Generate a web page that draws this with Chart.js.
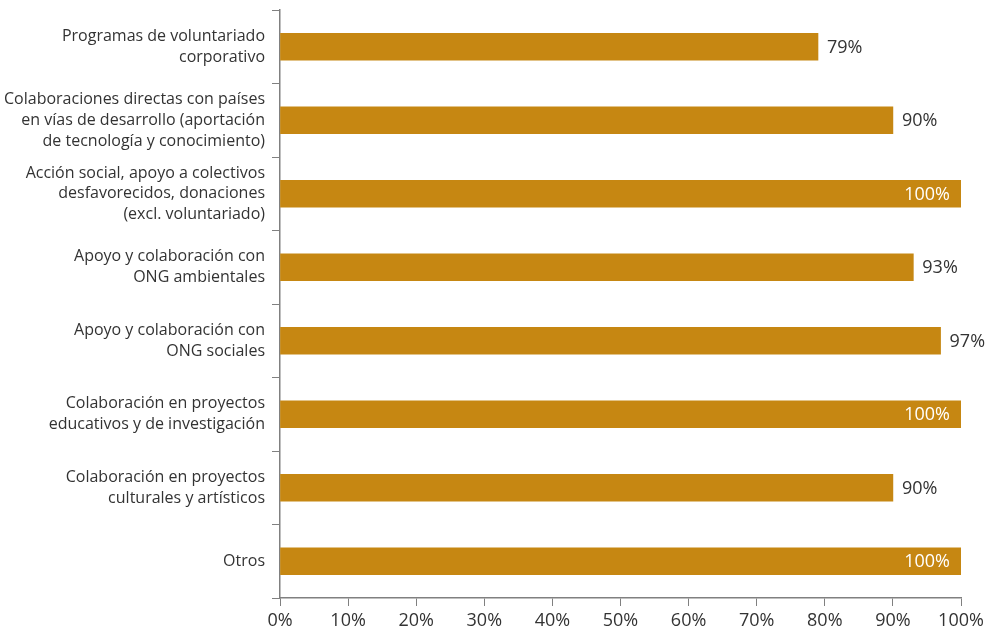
<!DOCTYPE html>
<html>
<head>
<meta charset="utf-8">
<script src="https://cdn.jsdelivr.net/npm/chart.js@4/dist/chart.umd.min.js"></script>
<style>
  html, body { margin: 0; padding: 0; background: #fff; }
  #wrap { width: 990px; height: 631px; position: relative; }
</style>
</head>
<body>
<div id="wrap"><canvas id="chart"></canvas></div>
<script>
const categories = [
    ['Programas de voluntariado', 'corporativo'],
    ['Colaboraciones directas con países', 'en vías de desarrollo (aportación', 'de tecnología y conocimiento)'],
    ['Acción social, apoyo a colectivos', 'desfavorecidos, donaciones', '(excl. voluntariado)'],
    ['Apoyo y colaboración con', 'ONG ambientales'],
    ['Apoyo y colaboración con', 'ONG sociales'],
    ['Colaboración en proyectos', 'educativos y de investigación'],
    ['Colaboración en proyectos', 'culturales y artísticos'],
    'Otros',
];
const values = [79, 90, 100, 93, 97, 100, 90, 100];
const xTicks = [0, 10, 20, 30, 40, 50, 60, 70, 80, 90, 100];

const BAR = '#C68712';
const TEXT = '#333333';
const AXIS = '#808080';
const FONT = "'Open Sans', sans-serif";

// value labels: dark outside the bar, white inside when the bar is full
const valueLabels = {
    id: 'valueLabels',
    afterDatasetsDraw(chart) {
        const { ctx } = chart;
        const meta = chart.getDatasetMeta(0);
        ctx.save();
        ctx.font = `18px ${FONT}`;
        ctx.textBaseline = 'middle';
        meta.data.forEach((bar, i) => {
            const v = values[i];
            const text = `${v}%`;
            if (v >= 100) {
                ctx.fillStyle = '#ffffff';
                ctx.textAlign = 'right';
                ctx.fillText(text, bar.x - 11, bar.y + 1);
            } else {
                ctx.fillStyle = TEXT;
                ctx.textAlign = 'left';
                ctx.fillText(text, bar.x + 9, bar.y + 1);
            }
        });
        ctx.restore();
    },
};

new Chart(document.getElementById('chart'), {
    type: 'bar',
    data: {
        labels: categories,
        datasets: [
            {
                data: values,
                backgroundColor: BAR,
                borderWidth: 0,
                barThickness: 27,
            },
        ],
    },
    options: {
        indexAxis: 'y',
        responsive: true,
        maintainAspectRatio: false,
        animation: false,
        layout: { padding: { top: 10, right: 29, left: 0, bottom: 0 } },
        plugins: {
            legend: { display: false },
            tooltip: { enabled: false },
        },
        scales: {
            x: {
                min: 0,
                max: 100,
                afterBuildTicks: (scale) => {
                    scale.ticks = xTicks.map((v) => ({ value: v }));
                },
                afterFit: (scale) => {
                    scale.height = 33;
                    scale.paddingLeft = 0;
                    scale.paddingRight = 0;
                },
                grid: {
                    drawOnChartArea: false,
                    drawTicks: true,
                    tickLength: 8,
                    color: AXIS,
                },
                border: { color: AXIS, width: 1.5 },
                ticks: {
                    color: TEXT,
                    padding: 4,
                    font: { family: FONT, size: 18 },
                    maxRotation: 0,
                    callback: (v) => `${v}%`,
                },
            },
            y: {
                grid: {
                    offset: true,
                    drawOnChartArea: false,
                    drawTicks: true,
                    tickLength: 8,
                    color: AXIS,
                },
                border: { color: AXIS, width: 1.5 },
                afterFit: (scale) => {
                    scale.width = 280;
                    scale.paddingTop = 0;
                    scale.paddingBottom = 0;
                },
                ticks: {
                    color: TEXT,
                    padding: 7,
                    font: { family: FONT, size: 16, lineHeight: 1.3 },
                },
            },
        },
    },
    plugins: [valueLabels],
});
</script>
</body>
</html>
